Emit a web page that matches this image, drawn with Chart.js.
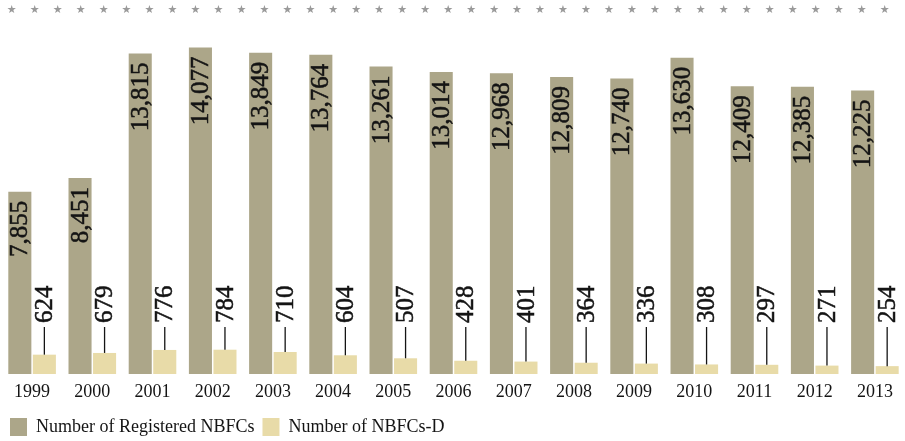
<!DOCTYPE html>
<html>
<head>
<meta charset="utf-8">
<script src="https://cdn.jsdelivr.net/npm/chart.js@4.4.1/dist/chart.umd.min.js"></script>
<style>
  body { margin: 0; background: #fff; }
  .nbfcChart { width: 905px; height: 441px; }
</style>
</head>
<body>
<div class="nbfcChart"><canvas></canvas></div>
<script>
const years = ['1999', '2000', '2001', '2002', '2003', '2004', '2005', '2006', '2007', '2008', '2009', '2010', '2011', '2012', '2013']
const registeredNbfcs = [7855, 8451, 13815, 14077, 13849, 13764, 13261, 13014, 12968, 12809, 12740, 13630, 12409, 12385, 12225]
const depositNbfcs = [624, 679, 776, 784, 710, 604, 507, 428, 401, 364, 336, 308, 297, 271, 254]

const SERIF = '"Liberation Serif", "DejaVu Serif", serif'

// row of little grey stars across the top
const starRow = {
  id: 'starRow',
  beforeDraw(chart) {
    const ctx = chart.ctx
    ctx.save()
    ctx.fillStyle = '#9a9a9a'
    ctx.font = '11px "DejaVu Sans"'
    ctx.textAlign = 'center'
    ctx.textBaseline = 'middle'
    for (let x = 11.7; x < chart.width - 10; x += 22.97) {
      ctx.fillText('\u2605', x, 10)
    }
    ctx.restore()
  }
}

// rotated value labels, plus the leader stems on the small bars
const barLabels = {
  id: 'barLabels',
  afterDatasetsDraw(chart) {
    const ctx = chart.ctx
    const area = chart.chartArea
    ctx.save()
    ctx.fillStyle = '#141414'
    ctx.strokeStyle = '#141414'
    ctx.font = '25px ' + SERIF
    ctx.textBaseline = 'middle'

    const label = (text, x, y, align) => {
      ctx.save()
      ctx.translate(x, y)
      ctx.rotate(-Math.PI / 2)
      ctx.textAlign = align
      ctx.lineWidth = 0.5
      ctx.fillText(text, 0, 0)
      ctx.strokeText(text, 0, 0)
      ctx.restore()
    }

    chart.getDatasetMeta(0).data.forEach((bar, i) => {
      label(registeredNbfcs[i].toLocaleString('en-US'), bar.x + 1, bar.y + 9, 'right')
    })

    const stemTop = area.bottom - 47
    ctx.lineWidth = 1.3
    chart.getDatasetMeta(1).data.forEach((bar, i) => {
      ctx.beginPath()
      ctx.moveTo(bar.x, bar.y)
      ctx.lineTo(bar.x, stemTop)
      ctx.stroke()
      label(depositNbfcs[i].toLocaleString('en-US'), bar.x + 1, stemTop - 4, 'left')
    })
    ctx.restore()
  }
}

const config = {
  type: 'bar',
  data: {
    labels: years,
    datasets: [
      {
        label: 'Number of Registered NBFCs',
        data: registeredNbfcs,
        backgroundColor: '#aca689',
        yAxisID: 'y',
        categoryPercentage: 0.815,
        barPercentage: 0.94
      },
      {
        label: 'Number of NBFCs-D',
        data: depositNbfcs,
        backgroundColor: '#e8dba8',
        yAxisID: 'y2',
        categoryPercentage: 0.815,
        barPercentage: 0.94
      }
    ]
  },
  options: {
    responsive: true,
    maintainAspectRatio: false,
    animation: false,
    layout: {
      padding: { top: 30, left: 2, right: 0, bottom: -5 }
    },
    scales: {
      x: {
        grid: { display: false, drawTicks: false },
        border: { display: false },
        ticks: {
          color: '#141414',
          padding: -2,
          font: { family: SERIF, size: 18, lineHeight: '40px' }
        }
      },
      y: { display: false, min: 0, max: 14830 },
      y2: { display: false, min: 0, max: 11100 }
    },
    plugins: {
      tooltip: { enabled: false },
      legend: {
        position: 'bottom',
        align: 'start',
        labels: {
          boxWidth: 17,
          boxHeight: 18,
          padding: 8,
          color: '#141414',
          font: { family: SERIF, size: 18 }
        }
      }
    }
  },
  plugins: [starRow, barLabels]
}

const canvas = document.querySelector('.nbfcChart canvas')
new Chart(canvas.getContext('2d'), config)
</script>
</body>
</html>
